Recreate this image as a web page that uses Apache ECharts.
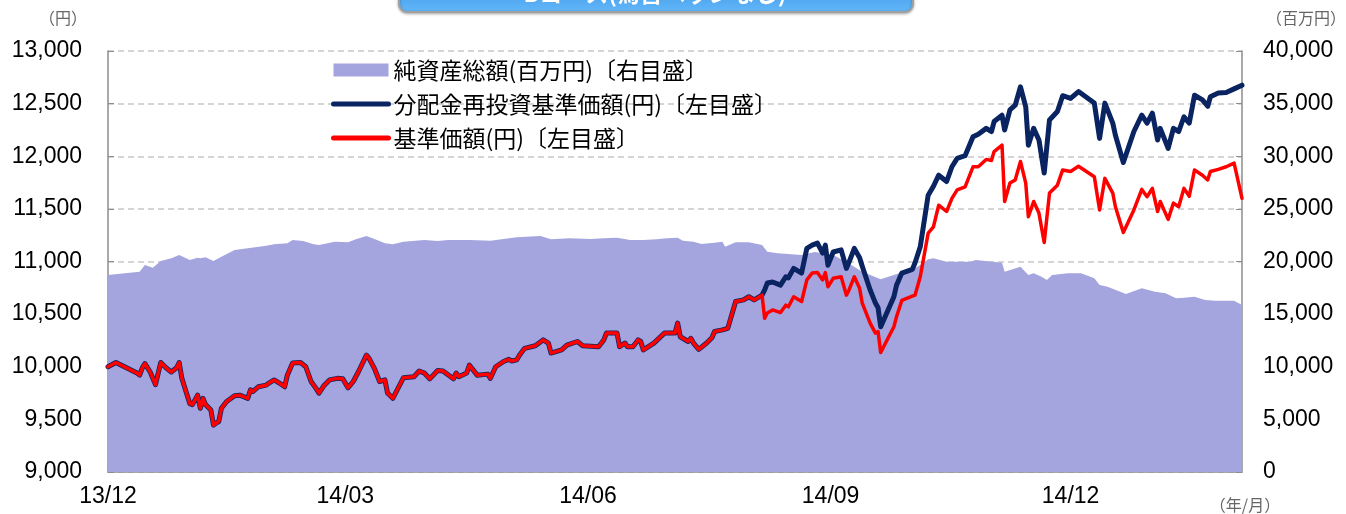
<!DOCTYPE html>
<html>
<head>
<meta charset="utf-8">
<script src="https://cdn.jsdelivr.net/npm/echarts@6/dist/echarts.min.js"></script>
<style>
  html, body { margin: 0; padding: 0; background: #fff; }
  #chart { width: 1346px; height: 514px; }
</style>
</head>
<body>
<div id="chart"></div>
<script>
// 日付（基準価額・分配金再投資基準価額）
var lineDates = [
  '2013/12/01','2013/12/04','2013/12/12','2013/12/13','2013/12/14','2013/12/15','2013/12/17','2013/12/19','2013/12/21','2013/12/23',
  '2013/12/25','2013/12/27','2013/12/28','2013/12/29','2014/01/01','2014/01/02','2014/01/04','2014/01/05','2014/01/06','2014/01/07',
  '2014/01/09','2014/01/10','2014/01/11','2014/01/12','2014/01/13','2014/01/15','2014/01/18','2014/01/20','2014/01/23','2014/01/24',
  '2014/01/25','2014/01/27','2014/01/30','2014/01/31','2014/02/02','2014/02/04','2014/02/06','2014/02/07','2014/02/09','2014/02/12',
  '2014/02/14','2014/02/16','2014/02/18','2014/02/19','2014/02/21','2014/02/23','2014/02/26','2014/02/28','2014/03/02','2014/03/04',
  '2014/03/06','2014/03/09','2014/03/10','2014/03/12','2014/03/14','2014/03/16','2014/03/17','2014/03/19','2014/03/23','2014/03/27',
  '2014/03/29','2014/03/31','2014/04/02','2014/04/05','2014/04/07','2014/04/11','2014/04/12','2014/04/13','2014/04/16','2014/04/17',
  '2014/04/20','2014/04/24','2014/04/25','2014/04/27','2014/04/30','2014/05/02','2014/05/03','2014/05/05','2014/05/06','2014/05/08',
  '2014/05/12','2014/05/15','2014/05/17','2014/05/18','2014/05/22','2014/05/24','2014/05/28','2014/05/30','2014/06/05','2014/06/07',
  '2014/06/08','2014/06/12','2014/06/13','2014/06/15','2014/06/16','2014/06/18','2014/06/20','2014/06/21','2014/06/22','2014/06/26',
  '2014/06/30','2014/07/04','2014/07/05','2014/07/06','2014/07/09','2014/07/10','2014/07/11','2014/07/13','2014/07/16','2014/07/18',
  '2014/07/19','2014/07/22','2014/07/24','2014/07/27','2014/07/30','2014/08/01','2014/08/03','2014/08/06','2014/08/07','2014/08/08',
  '2014/08/10','2014/08/13','2014/08/15','2014/08/16','2014/08/18','2014/08/21','2014/08/23','2014/08/25','2014/08/27','2014/08/29',
  '2014/08/30','2014/08/31','2014/09/02','2014/09/05','2014/09/07','2014/09/08','2014/09/10','2014/09/12','2014/09/13','2014/09/16',
  '2014/09/18','2014/09/19','2014/09/20','2014/09/25','2014/09/26','2014/09/28','2014/10/02','2014/10/03','2014/10/05','2014/10/08',
  '2014/10/10','2014/10/12','2014/10/15','2014/10/17','2014/10/19','2014/10/22','2014/10/25','2014/10/27','2014/10/30','2014/11/01',
  '2014/11/02','2014/11/05','2014/11/06','2014/11/08','2014/11/10','2014/11/12','2014/11/14','2014/11/15','2014/11/17','2014/11/19',
  '2014/11/21','2014/11/23','2014/11/26','2014/11/28','2014/12/01','2014/12/04','2014/12/10','2014/12/12','2014/12/14','2014/12/17',
  '2014/12/18','2014/12/21','2014/12/25','2014/12/28','2014/12/30','2015/01/01','2015/01/03','2015/01/04','2015/01/07','2015/01/09',
  '2015/01/11','2015/01/13','2015/01/15','2015/01/17','2015/01/20','2015/01/22','2015/01/23','2015/01/26','2015/01/29','2015/02/01',
  '2015/02/04'
];
// 基準価額(円)
var navValues = [
  10000,10040,9940,9920,9990,10030,9950,9830,10040,9990,
  9950,9990,10040,9890,9650,9640,9730,9605,9700,9640,
  9590,9445,9465,9480,9605,9670,9725,9730,9700,9780,
  9765,9810,9825,9845,9875,9845,9810,9920,10035,10040,
  10000,9860,9790,9750,9825,9875,9890,9885,9800,9860,
  9955,10110,10080,9985,9860,9875,9750,9700,9895,9905,
  9960,9940,9885,9965,9960,9885,9940,9905,9940,10015,
  9920,9930,9890,10000,10050,10070,10055,10065,10110,10175,
  10200,10255,10225,10130,10160,10205,10240,10200,10190,10255,
  10320,10320,10190,10225,10190,10190,10255,10240,10160,10225,
  10320,10320,10415,10285,10240,10270,10225,10165,10225,10275,
  10335,10350,10365,10620,10635,10665,10635,10680,10460,10510,
  10540,10515,10585,10570,10665,10620,10825,10890,10895,10825,
  10895,10760,10840,10855,10680,10730,10855,10745,10605,10415,
  10320,10335,10135,10380,10475,10630,10670,10680,10855,11270,
  11330,11535,11475,11600,11680,11710,11900,11900,11970,11960,
  12045,12105,11570,11745,11775,11950,11745,11425,11570,11460,
  11180,11650,11725,11870,11855,11905,11805,11490,11790,11650,
  11520,11275,11490,11685,11615,11695,11475,11570,11400,11555,
  11520,11695,11620,11870,11820,11775,11855,11875,11900,11935,
  11600
];
// 分配金再投資基準価額(円)
var reinvValues = [
  10000,10040,9940,9920,9990,10030,9950,9830,10040,9990,
  9950,9990,10040,9890,9650,9640,9730,9605,9700,9640,
  9590,9445,9465,9480,9605,9670,9725,9730,9700,9780,
  9765,9810,9825,9845,9875,9845,9810,9920,10035,10040,
  10000,9860,9790,9750,9825,9875,9890,9885,9800,9860,
  9955,10110,10080,9985,9860,9875,9750,9700,9895,9905,
  9960,9940,9885,9965,9960,9885,9940,9905,9940,10015,
  9920,9930,9890,10000,10050,10070,10055,10065,10110,10175,
  10200,10255,10225,10130,10160,10205,10240,10200,10190,10255,
  10320,10320,10190,10225,10190,10190,10255,10240,10160,10225,
  10320,10320,10415,10285,10240,10270,10225,10165,10225,10275,
  10335,10350,10365,10620,10635,10665,10635,10680,10730,10795,
  10805,10775,10855,10845,10935,10890,11125,11155,11175,11080,
  11155,10965,11090,11110,10935,10995,11125,11035,10955,10730,
  10605,10560,10380,10665,10775,10890,10925,10985,11140,11630,
  11715,11820,11760,11900,11980,12005,12185,12210,12265,12235,
  12330,12390,12250,12440,12485,12660,12470,12105,12265,12155,
  11840,12345,12425,12575,12550,12615,12505,12170,12505,12315,
  12200,11940,12235,12390,12315,12410,12155,12265,12075,12265,
  12235,12375,12315,12580,12535,12475,12565,12600,12605,12640,
  12675
];
// 日付（純資産総額）
var assetDates = [
  '2013/12/01','2013/12/13','2013/12/15','2013/12/18','2013/12/21','2013/12/25','2013/12/28','2014/01/01','2014/01/04','2014/01/05',
  '2014/01/07','2014/01/10','2014/01/13','2014/01/18','2014/01/23','2014/01/30','2014/02/02','2014/02/07','2014/02/09','2014/02/13',
  '2014/02/17','2014/02/19','2014/02/25','2014/03/02','2014/03/05','2014/03/09','2014/03/13','2014/03/16','2014/03/19','2014/03/23',
  '2014/03/31','2014/04/05','2014/04/09','2014/04/17','2014/04/25','2014/05/05','2014/05/14','2014/05/18','2014/05/25','2014/06/02',
  '2014/06/07','2014/06/12','2014/06/17','2014/06/22','2014/06/27','2014/07/01','2014/07/05','2014/07/07','2014/07/11','2014/07/14',
  '2014/07/19','2014/07/22','2014/07/23','2014/07/27','2014/08/01','2014/08/06','2014/08/08','2014/08/12','2014/08/21','2014/08/26',
  '2014/09/02','2014/09/07','2014/09/13','2014/09/20','2014/09/27','2014/10/02','2014/10/05','2014/10/08','2014/10/10','2014/10/15',
  '2014/10/21','2014/10/24','2014/10/26','2014/11/05','2014/11/06','2014/11/12','2014/11/15','2014/11/17','2014/11/20','2014/11/22',
  '2014/11/24','2014/11/30','2014/12/05','2014/12/10','2014/12/12','2014/12/15','2014/12/22','2014/12/28','2015/01/02','2015/01/06',
  '2015/01/10','2015/01/13','2015/01/17','2015/01/21','2015/01/25','2015/02/01','2015/02/04'
];
// 純資産総額(百万円)
var assetValues = [
  18720,19030,19670,19410,20050,20300,20620,20140,20360,20300,
  20400,20050,20460,21090,21250,21500,21630,21730,22040,21950,
  21630,21570,21880,21820,22110,22420,22040,21730,21630,21880,
  22040,21950,22040,22040,21980,22300,22420,22110,22200,22140,
  22200,22260,22040,22040,22110,22200,22260,21980,21880,21660,
  21790,21880,21410,21820,21820,21570,20930,20780,20620,20900,
  20620,19950,19030,18310,18880,19190,19670,20210,20300,19980,
  19980,19980,20140,19890,19030,19510,18720,18880,18560,18240,
  18720,18880,18880,18400,17770,17610,16910,17450,17130,16980,
  16500,16560,16660,16340,16280,16280,15870
];
// 目盛
var tickDates = ['2013/12/01','2014/03/01','2014/06/01','2014/09/01','2014/12/01'];
var tickLabels = ['13/12','14/03','14/06','14/09','14/12'];

function toUTC(s) {
  var p = s.split('/');
  return Date.UTC(+p[0], +p[1] - 1, +p[2]);
}
var base = toUTC(lineDates[0]);
function dayOf(s) { return Math.round((toUTC(s) - base) / 86400000); }

var tickDays = tickDates.map(dayOf);
function pairs(dates, vals) {
  return dates.map(function (d, i) { return [dayOf(d), vals[i]]; });
}

var numFont = '"Liberation Sans", Arial, sans-serif';
var jpFont = '"Noto Sans CJK JP", sans-serif';
var grey = '#8c8c8c';
var unitFont = '16px "Noto Sans CJK JP", sans-serif';

var chart = echarts.init(document.getElementById('chart'));
chart.setOption({
  animation: false,
  grid: { left: 108, right: 104, top: 51, bottom: 42, containLabel: false },
  legend: {
    orient: 'vertical',
    left: 326,
    top: 53,
    itemWidth: 55,
    itemHeight: 13,
    itemGap: 10,
    textStyle: { fontFamily: jpFont, fontSize: 23, lineHeight: 24, color: '#000' },
    data: [
      { name: '純資産総額(百万円)〔右目盛〕', icon: 'rect' },
      { name: '分配金再投資基準価額(円)〔左目盛〕', itemStyle: { opacity: 0 }, lineStyle: { width: 5, cap: 'round' } },
      { name: '基準価額(円)〔左目盛〕', itemStyle: { opacity: 0 }, lineStyle: { width: 5, cap: 'round' } }
    ]
  },
  xAxis: {
    type: 'value',
    min: 0,
    max: dayOf(lineDates[lineDates.length - 1]),
    splitLine: { show: false },
    axisLine: { lineStyle: { color: grey, width: 1.5 } },
    axisTick: { inside: true, length: 6, customValues: tickDays, lineStyle: { color: grey } },
    axisLabel: {
      customValues: tickDays,
      margin: 13,
      fontSize: 23,
      fontFamily: numFont,
      color: '#000',
      formatter: function (v) { return tickLabels[tickDays.indexOf(v)]; }
    }
  },
  yAxis: [
    {
      type: 'value',
      min: 9000, max: 13000, interval: 500,
      axisLine: { show: true, lineStyle: { color: grey, width: 1.5 } },
      axisTick: { show: true, inside: true, length: 6, lineStyle: { color: grey } },
      axisLabel: {
        margin: 26, fontSize: 23, fontFamily: numFont, color: '#000',
        formatter: function (v) { return v.toLocaleString('en-US'); }
      },
      splitLine: { lineStyle: { color: '#c8c8c8', type: [6, 4], width: 1.5 } }
    },
    {
      type: 'value',
      min: 0, max: 40000, interval: 5000,
      axisLine: { show: true, lineStyle: { color: grey, width: 1.5 } },
      axisTick: { show: true, inside: true, length: 6, lineStyle: { color: grey } },
      axisLabel: {
        margin: 21, fontSize: 23, fontFamily: numFont, color: '#000',
        formatter: function (v) { return v.toLocaleString('en-US'); }
      },
      splitLine: { show: false }
    }
  ],
  series: [
    {
      name: '純資産総額(百万円)〔右目盛〕',
      type: 'line',
      yAxisIndex: 1,
      symbol: 'none',
      color: '#a4a4de',
      lineStyle: { width: 0 },
      areaStyle: { color: '#a4a4de', opacity: 1 },
      data: pairs(assetDates, assetValues),
      z: 1
    },
    {
      name: '分配金再投資基準価額(円)〔左目盛〕',
      type: 'line',
      symbol: 'none',
      color: '#0a2462',
      lineStyle: { width: 5, color: '#0a2462', cap: 'round', join: 'round' },
      data: pairs(lineDates, reinvValues),
      z: 3
    },
    {
      name: '基準価額(円)〔左目盛〕',
      type: 'line',
      symbol: 'none',
      color: '#ff0000',
      lineStyle: { width: 3.5, color: '#ff0000', cap: 'round', join: 'round' },
      data: pairs(lineDates, navValues),
      z: 4
    }
  ],
  graphic: [
    {
      type: 'rect',
      shape: { x: 399, y: -32, width: 514, height: 44, r: 8 },
      style: {
        fill: new echarts.graphic.LinearGradient(0, 0, 0, 1, [
          { offset: 0, color: '#2a86dc' },
          { offset: 1, color: '#64b8fa' }
        ]),
        stroke: '#a0a0a0',
        lineWidth: 2,
        shadowBlur: 3,
        shadowColor: 'rgba(0,0,0,0.3)',
        shadowOffsetY: 1
      },
      z: 10
    },
    {
      type: 'text',
      style: {
        x: 655, y: -7,
        text: 'Bコース(為替ヘッジなし)',
        fill: '#fff',
        font: 'bold 23px "Noto Sans CJK JP", sans-serif',
        textAlign: 'center',
        textVerticalAlign: 'middle'
      },
      z: 11
    },
    {
      type: 'text',
      style: { x: 63, y: 18, text: '（円）', fill: '#666', font: unitFont, textAlign: 'center', textVerticalAlign: 'middle' }
    },
    {
      type: 'text',
      style: { x: 1306, y: 18, text: '（百万円）', fill: '#666', font: unitFont, textAlign: 'center', textVerticalAlign: 'middle' }
    },
    {
      type: 'text',
      style: { x: 1245, y: 505, text: '（年/月）', fill: '#666', font: unitFont, textAlign: 'center', textVerticalAlign: 'middle' }
    }
  ]
});
</script>
</body>
</html>
